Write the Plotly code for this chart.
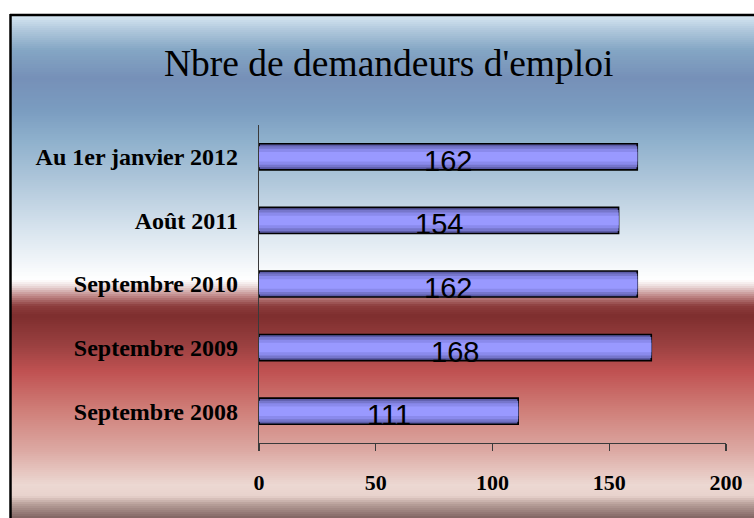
import plotly.graph_objects as go

categories = ["Septembre 2008", "Septembre 2009", "Septembre 2010", "Août 2011", "Au 1er janvier 2012"]
values = [111, 168, 162, 154, 162]
x_ticks = [0, 50, 100, 150, 200]
title_text = "Nbre de demandeurs d'emploi"

W, H = 754, 518
PL, PR, PT, PB = 259, 726, 125, 443  # plot area in pixels


def px_x(p):
    return (p - PL) / (PR - PL)


def px_y(p):
    return (PB - p) / (PB - PT)


def hex2rgb(h):
    h = h.lstrip("#")
    return tuple(int(h[i:i + 2], 16) for i in (0, 2, 4))


stops = [(16, "#d6e6f2"), (30, "#b0c8dc"), (50, "#84a6c4"), (78, "#7690b8"), (110, "#7a9cc0"),
         (140, "#8eb0cc"), (180, "#aec6da"), (230, "#d8e4ee"), (268, "#f6f9fb"), (280, "#ffffff"),
         (286, "#ecdcdc"), (296, "#c08888"), (306, "#8c3c3c"), (316, "#7e2e2e"), (345, "#9a4040"),
         (372, "#c05252"), (410, "#cf7e78"), (450, "#dca8a2"), (485, "#ecd8d2"), (496, "#e8d2cc"),
         (504, "#b8a09a"), (518, "#806462")]


def color_at(p):
    for (p0, c0), (p1, c1) in zip(stops, stops[1:]):
        if p0 <= p <= p1:
            t = (p - p0) / (p1 - p0)
            a, b = hex2rgb(c0), hex2rgb(c1)
            return "rgb(%d,%d,%d)" % tuple(round(a[i] + (b[i] - a[i]) * t) for i in range(3))
    return stops[-1][1]


shapes = []
step = 2
y = 16
while y < H:
    shapes.append(dict(type="rect", xref="paper", yref="paper", layer="below",
                       x0=px_x(11), x1=px_x(W + 2), y0=px_y(y + step + 0.5), y1=px_y(y),
                       fillcolor=color_at(y + step / 2), line=dict(width=0)))
    y += step

# black frame (top and left)
shapes.append(dict(type="line", xref="paper", yref="paper", layer="above",
                   x0=px_x(10), x1=px_x(W + 2), y0=px_y(15), y1=px_y(15),
                   line=dict(color="black", width=2.5)))
shapes.append(dict(type="line", xref="paper", yref="paper", layer="above",
                   x0=px_x(10.5), x1=px_x(10.5), y0=px_y(14), y1=px_y(H + 2),
                   line=dict(color="black", width=2.5)))

fig = go.Figure()
layers = [(0.41, "#5c5ca8", dict(color="black", width=1.6)),
          (0.33, "#7676cc", dict(width=0)),
          (0.25, "#8a8aec", dict(width=0)),
          (0.15, "#9999ff", dict(width=0))]
for w, c, ln in layers:
    fig.add_trace(go.Bar(x=values, y=categories, orientation="h", width=w,
                         marker=dict(color=c, line=ln), hoverinfo="skip", showlegend=False))

annotations = [dict(x=v / 2, y=cat, xref="x", yref="y", text=str(v), showarrow=False,
                    yshift=-4, font=dict(family="Liberation Sans, Arial", size=29, color="black"))
               for cat, v in zip(categories, values)]
annotations.append(dict(x=px_x(388), y=px_y(64), xref="paper", yref="paper", text=title_text,
                        showarrow=False, xanchor="center", yanchor="middle",
                        font=dict(family="Liberation Serif, Times New Roman", size=37.5, color="black")))

fig.update_layout(
    width=W, height=H,
    margin=dict(l=PL, r=W - PR, t=PT, b=H - PB, pad=0),
    paper_bgcolor="white", plot_bgcolor="rgba(0,0,0,0)",
    barmode="overlay",
    shapes=shapes, annotations=annotations,
    xaxis=dict(range=[0, 200], tickvals=x_ticks, ticktext=[str(t) for t in x_ticks],
               showgrid=False, zeroline=False, showline=True, linecolor="#3a3a3a", linewidth=1.2,
               ticks="outside", ticklen=7, tickcolor="#3a3a3a", tickwidth=1.2,
               ticklabelstandoff=12,
               tickfont=dict(family="Liberation Serif, Times New Roman", size=22, color="black")),
    yaxis=dict(categoryorder="array", categoryarray=categories, range=[-0.5, 4.5],
               showgrid=False, zeroline=False, showline=True, linecolor="#3a3a3a", linewidth=1.2,
               ticks="", ticklabelstandoff=15,
               tickfont=dict(family="Liberation Serif, Times New Roman", size=24, color="black")),
    font=dict(family="Liberation Serif"),
)
fig.update_xaxes(tickfont_weight="bold")
fig.update_yaxes(tickfont_weight="bold")

fig.write_html("out.html", config={"displayModeBar": False, "staticPlot": True},
               post_script="document.body.style.margin='0';document.body.style.overflow='hidden';")
